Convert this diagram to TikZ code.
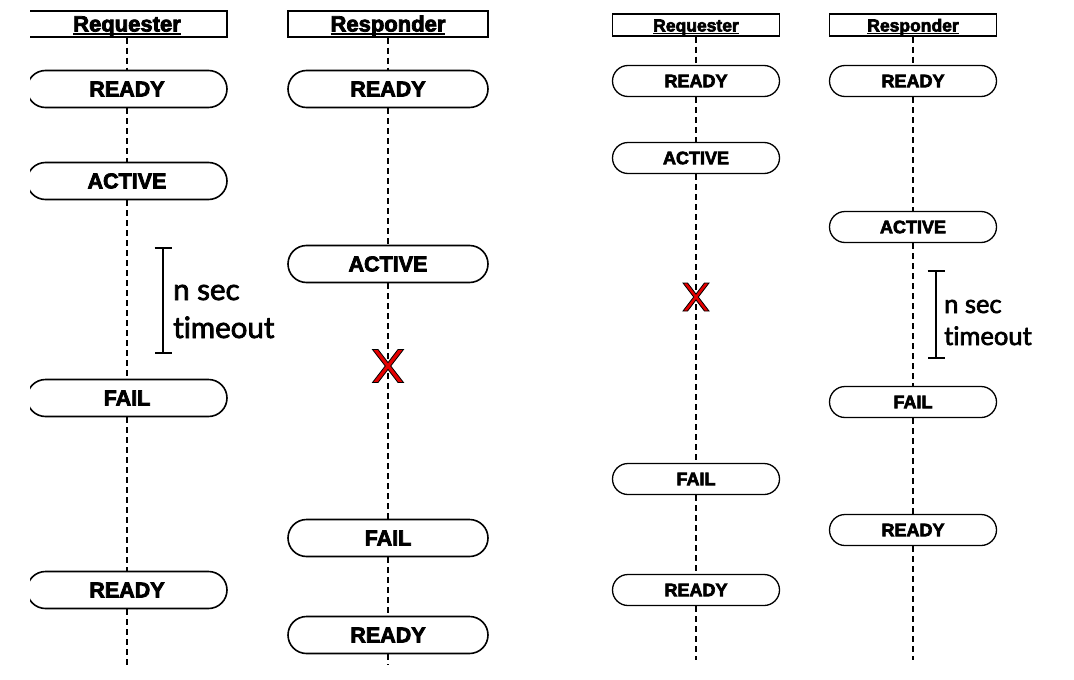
\documentclass[tikz,border=0pt]{standalone}
\usepackage{fontspec}
\setmainfont[BoldFeatures={FakeBold=3.5}]{Liberation Sans}
\newfontfamily\gillfont[FakeBold=2.5, Ligatures={NoCommon,NoContextual,NoDiscretionary}]{Lato}
\usetikzlibrary{arrows.meta}
\newcommand\ulbox[3]{\setbox0\hbox{#3}\rlap{\rule[#1]{\wd0}{#2}}\box0}
\begin{document}
\begin{tikzpicture}[x=1pt,y=-1pt,
  lhdr/.style={draw, line width=1.4pt, minimum width=200pt, minimum height=26pt, inner sep=0pt,
    text height=19pt, text depth=4pt, font=\fontsize{22}{24}\selectfont\bfseries},
  rhdr/.style={draw, line width=1.3pt, minimum width=167pt, minimum height=22pt, inner sep=0pt,
    text height=16pt, text depth=3pt, font=\fontsize{17.5}{20}\selectfont\bfseries},
  lstate/.style={draw, line width=1.6pt, minimum width=200pt, minimum height=37pt,
    rounded corners=18.5pt, inner sep=0pt, font=\fontsize{21.5}{24}\selectfont\bfseries},
  rstate/.style={draw, line width=1.3pt, minimum width=167pt, minimum height=31pt,
    rounded corners=15.5pt, inner sep=0pt, font=\fontsize{18}{20}\selectfont\bfseries},
  life/.style={line width=1.5pt, dash pattern=on 6pt off 4pt},
  brk/.style={line width=2.4pt, {Bar[width=17pt]}-{Bar[width=17pt]}},
  lbl/.style={align=left, inner sep=0pt},
  xmark/.style={fill=red!90!black, draw=black, line width=0.8pt, line join=miter}
]
\useasboundingbox (0,0) rectangle (1074,680);

% ---------------- left diagram ----------------
\begin{scope}
\clip (30,0) rectangle (260,680);
\node[lhdr] (Lqh) at (127,24) {\ulbox{-3pt}{1.5pt}{Requester}};
\node[lstate] (Lq1) at (127,89) {READY};
\node[lstate] (Lq2) at (127,181) {ACTIVE};
\node[lstate] (Lq3) at (127,398) {FAIL};
\node[lstate] (Lq4) at (127,590) {READY};
\end{scope}
\coordinate (Lqe) at (127,665);

\node[lhdr] (Lph) at (388,24) {\ulbox{-3pt}{1.5pt}{Responder}};
\node[lstate] (Lp1) at (388,89) {READY};
\node[lstate] (Lp2) at (388,264) {ACTIVE};
\node[lstate] (Lp3) at (388,538) {FAIL};
\node[lstate] (Lp4) at (388,635) {READY};
\coordinate (Lpe) at (388,665);

\draw[life] (Lqh) -- (Lq1);
\draw[life] (Lq1) -- (Lq2);
\draw[life] (Lq2) -- (Lq3);
\draw[life] (Lq3) -- (Lq4);
\draw[life] (Lq4) -- (Lqe);

\draw[life] (Lph) -- (Lp1);
\draw[life] (Lp1) -- (Lp2);
\draw[life] (Lp2) -- (Lp3);
\draw[life] (Lp3) -- (Lp4);
\draw[life] (Lp4) -- (Lpe);

\coordinate (Lta) at (163,247);
\coordinate (Ltb) at (163,354);
\draw[brk] (Lta) -- (Ltb);
\node[lbl, anchor=base west, font=\gillfont\fontsize{29.5}{38}\selectfont] (Ltl) at (173,338) {n sec\\timeout};

\coordinate (Lx) at (388,366);
\begin{scope}[shift={(Lx)}]
\draw[xmark] (-15.5,-16.5) -- (-10,-16.5) -- (0,-3.4) -- (10,-16.5) -- (15.5,-16.5) -- (2.75,0)
  -- (15.5,16.5) -- (10,16.5) -- (0,3.4) -- (-10,16.5) -- (-15.5,16.5) -- (-2.75,0) -- cycle;
\end{scope}

% ---------------- right diagram ----------------
\node[rhdr] (Rqh) at (696,25) {\ulbox{-2.6pt}{1.2pt}{Requester}};
\node[rstate] (Rq1) at (696,81) {READY};
\node[rstate] (Rq2) at (696,158) {ACTIVE};
\node[rstate] (Rq3) at (696,479) {FAIL};
\node[rstate] (Rq4) at (696,590) {READY};
\coordinate (Rqe) at (696,660);

\node[rhdr] (Rph) at (913,25) {\ulbox{-2.6pt}{1.2pt}{Responder}};
\node[rstate] (Rp1) at (913,81) {READY};
\node[rstate] (Rp2) at (913,227) {ACTIVE};
\node[rstate] (Rp3) at (913,402) {FAIL};
\node[rstate] (Rp4) at (913,530) {READY};
\coordinate (Rpe) at (913,660);

\draw[life] (Rqh) -- (Rq1);
\draw[life] (Rq1) -- (Rq2);
\draw[life] (Rq2) -- (Rq3);
\draw[life] (Rq3) -- (Rq4);
\draw[life] (Rq4) -- (Rqe);

\draw[life] (Rph) -- (Rp1);
\draw[life] (Rp1) -- (Rp2);
\draw[life] (Rp2) -- (Rp3);
\draw[life] (Rp3) -- (Rp4);
\draw[life] (Rp4) -- (Rpe);

\coordinate (Rta) at (936,270);
\coordinate (Rtb) at (936,359);
\draw[brk, line width=2.1pt] (Rta) -- (Rtb);
\node[lbl, anchor=base west, font=\gillfont\fontsize{25.5}{32}\selectfont] (Rtl) at (944,345) {n sec\\timeout};

\coordinate (Rx) at (696,297);
\begin{scope}[shift={(Rx)}]
\draw[xmark] (-13,-14) -- (-8.4,-14) -- (0,-2.9) -- (8.4,-14) -- (13,-14) -- (2.3,0)
  -- (13,14) -- (8.4,14) -- (0,2.9) -- (-8.4,14) -- (-13,14) -- (-2.3,0) -- cycle;
\end{scope}
\end{tikzpicture}
\end{document}
